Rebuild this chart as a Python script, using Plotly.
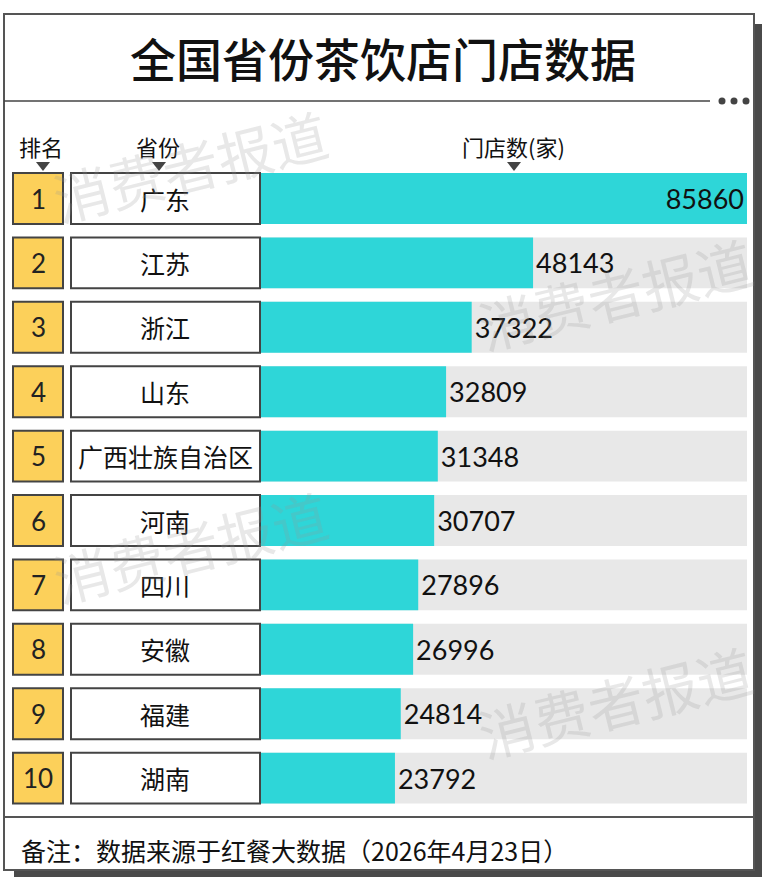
import plotly.graph_objects as go

# data
ranks = [1, 2, 3, 4, 5, 6, 7, 8, 9, 10]
provinces = ['广东', '江苏', '浙江', '山东', '广西壮族自治区', '河南', '四川', '安徽', '福建', '湖南']
stores = [85860, 48143, 37322, 32809, 31348, 30707, 27896, 26996, 24814, 23792]

title = '全国省份茶饮店门店数据'
headers = ['排名', '省份', '门店数(家)']
note = '备注：数据来源于红餐大数据（2026年4月23日）'
watermark = '消费者报道'

W, H = 767, 878
CJK = 'Noto Sans CJK SC'
NUM = 'Lato, Noto Sans CJK SC'


def px(x):
    return x / W


def py(y):
    return 1 - y / H


def label(x, y, text, font, xanchor='center', angle=0):
    return dict(xref='paper', yref='paper', x=px(x), y=py(y), text=text,
                xanchor=xanchor, yanchor='middle', showarrow=False,
                textangle=angle, font=font)


fig = go.Figure()

# grey track behind every bar
fig.add_trace(go.Bar(
    y=ranks, x=[max(stores)] * len(stores), orientation='h',
    width=0.79, marker=dict(color='#e8e8e8', line_width=0),
    hoverinfo='skip', showlegend=False))

# the actual values
fig.add_trace(go.Bar(
    y=ranks, x=stores, orientation='h',
    width=0.79, marker=dict(color='#2ed6d8', line_width=0),
    text=[str(v) for v in stores],
    textposition=['inside'] + ['outside'] * (len(stores) - 1),
    insidetextanchor='end', textangle=0, constraintext='none',
    textfont=dict(family=NUM, size=27, color='#111111'),
    cliponaxis=False, hoverinfo='skip', showlegend=False))

shapes = []
# card shadow + card
shapes.append(dict(type='rect', xref='paper', yref='paper', layer='below',
                   x0=px(14), x1=px(762), y0=py(24), y1=py(877),
                   fillcolor='#4a4a4a', line_width=0))
shapes.append(dict(type='rect', xref='paper', yref='paper', layer='below',
                   x0=px(4), x1=px(754), y0=py(14), y1=py(870),
                   fillcolor='white', line=dict(color='#555555', width=2)))
# title divider with dots
shapes.append(dict(type='line', xref='paper', yref='paper',
                   x0=px(4), x1=px(710), y0=py(101), y1=py(101),
                   line=dict(color='#444444', width=1.5)))
for cx in (722, 734, 746):
    shapes.append(dict(type='circle', xref='paper', yref='paper',
                       x0=px(cx - 3.5), x1=px(cx + 3.5), y0=py(101 - 3.5), y1=py(101 + 3.5),
                       fillcolor='#444444', line_width=0))
# footer divider
shapes.append(dict(type='line', xref='paper', yref='paper',
                   x0=px(4), x1=px(754), y0=py(817), y1=py(817),
                   line=dict(color='#555555', width=2)))
# header arrows
for cx in (43, 159, 514):
    shapes.append(dict(type='path', xref='paper', yref='paper',
                       path='M {} {} L {} {} L {} {} Z'.format(
                           px(cx - 7), py(162), px(cx + 7), py(162), px(cx), py(171)),
                       fillcolor='#444444', line_width=0))

# rank and province boxes per row
half = 0.395
for r in ranks:
    shapes.append(dict(type='rect', xref='paper', yref='y',
                       x0=px(13), x1=px(63), y0=r - half, y1=r + half,
                       fillcolor='#fcd05a', line=dict(color='#444444', width=2)))
    shapes.append(dict(type='rect', xref='paper', yref='y',
                       x0=px(71), x1=px(260), y0=r - half, y1=r + half,
                       fillcolor='white', line=dict(color='#444444', width=2)))

annotations = []
for r, p in zip(ranks, provinces):
    annotations.append(dict(xref='paper', yref='y', x=px(38), y=r, text=str(r),
                            xanchor='center', yanchor='middle', showarrow=False,
                            font=dict(family=NUM, size=26, color='#222222')))
    annotations.append(dict(xref='paper', yref='y', x=px(165), y=r, text=p,
                            xanchor='center', yanchor='middle', showarrow=False,
                            font=dict(family=CJK, size=25, color='#111111')))

annotations.append(label(383, 57, title, dict(family=CJK, size=46, color='#111111', weight=500)))
for hx, h in zip((41, 158, 513), headers):
    annotations.append(label(hx, 146, h, dict(family=CJK, size=22, color='#111111')))
annotations.append(label(19, 850, note, dict(family=CJK, size=25, color='#111111'), xanchor='left'))

# faint watermarks
for wx, wy in ((190, 165), (615, 292), (190, 545), (615, 700)):
    annotations.append(label(wx, wy, watermark,
                             dict(family=CJK, size=56, color='rgba(150,150,150,0.22)'),
                             angle=-14))

# y maps rank r to pixel row 198.5 + 64.4*(r-1)
y_top = 1 - 198.5 / 64.4
y_bot = 1 + (H - 198.5) / 64.4

fig.update_layout(
    width=W, height=H, margin=dict(l=0, r=0, t=0, b=0),
    paper_bgcolor='white', plot_bgcolor='rgba(0,0,0,0)',
    barmode='overlay', showlegend=False,
    xaxis=dict(domain=[px(260), px(747)], range=[0, max(stores)], visible=False, fixedrange=True),
    yaxis=dict(domain=[0, 1], range=[y_bot, y_top], visible=False, fixedrange=True),
    shapes=shapes, annotations=annotations,
)

fig.write_html('out.html', config={'displayModeBar': False},
               post_script="document.body.style.margin='0';")
